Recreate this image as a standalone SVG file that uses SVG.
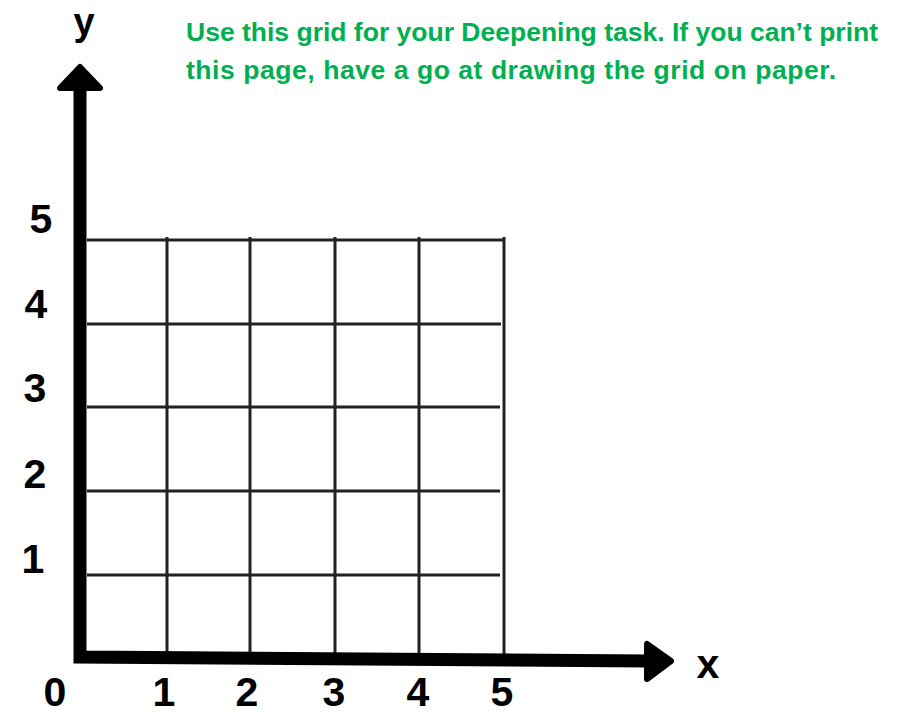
<svg xmlns="http://www.w3.org/2000/svg" width="904" height="715" viewBox="0 0 904 715">
<style>
.grid{stroke:#222;stroke-width:3;fill:none}
.axis{stroke:#000;stroke-width:13;fill:none;stroke-linecap:round}
.head{fill:#000;stroke:#000;stroke-width:6;stroke-linejoin:round}
.num{font-family:"Liberation Sans",Arial,sans-serif;font-weight:bold;font-size:41px;fill:#000;text-anchor:middle}
.note{font-family:"Liberation Sans",Arial,sans-serif;font-weight:bold;font-size:26.5px;fill:#00b050}
</style>
<rect width="904" height="715" fill="#fff"/>
<g id="grid">
<line class="grid" x1="87" y1="240" x2="503" y2="240"/>
<line class="grid" x1="87" y1="324" x2="501" y2="324"/>
<line class="grid" x1="87" y1="407" x2="500" y2="407"/>
<line class="grid" x1="87" y1="491" x2="500" y2="491"/>
<line class="grid" x1="87" y1="575" x2="500" y2="575"/>
<line class="grid" x1="167" y1="237" x2="167" y2="655"/>
<line class="grid" x1="250" y1="237" x2="250" y2="655"/>
<line class="grid" x1="335" y1="237" x2="335" y2="655"/>
<line class="grid" x1="419" y1="237" x2="419" y2="655"/>
<line class="grid" x1="504" y1="237" x2="504" y2="655"/>
</g>
<g id="axes">
<path class="axis" d="M80 90 L80 657 L650 661"/>
<polygon class="head" points="80,67 100,88 60,88"/>
<polygon class="head" points="671,661 647,644 647,679"/>
</g>
<g id="labels">
<text class="num" x="84" y="35" style="font-size:38px">y</text>
<text class="num" x="708" y="678">x</text>
<text class="num" x="41" y="233">5</text>
<text class="num" x="36" y="318">4</text>
<text class="num" x="35" y="402">3</text>
<text class="num" x="35" y="488">2</text>
<text class="num" x="33" y="573">1</text>
<text class="num" x="55" y="706">0</text>
<text class="num" x="164" y="706">1</text>
<text class="num" x="247" y="706">2</text>
<text class="num" x="334" y="706">3</text>
<text class="num" x="418" y="706">4</text>
<text class="num" x="502" y="706">5</text>
</g>
<g id="note">
<text class="note" x="186" y="41">Use this grid for your Deepening task. If you can’t print</text>
<text class="note" x="186" y="79" textLength="650">this page, have a go at drawing the grid on paper.</text>
</g>
</svg>
